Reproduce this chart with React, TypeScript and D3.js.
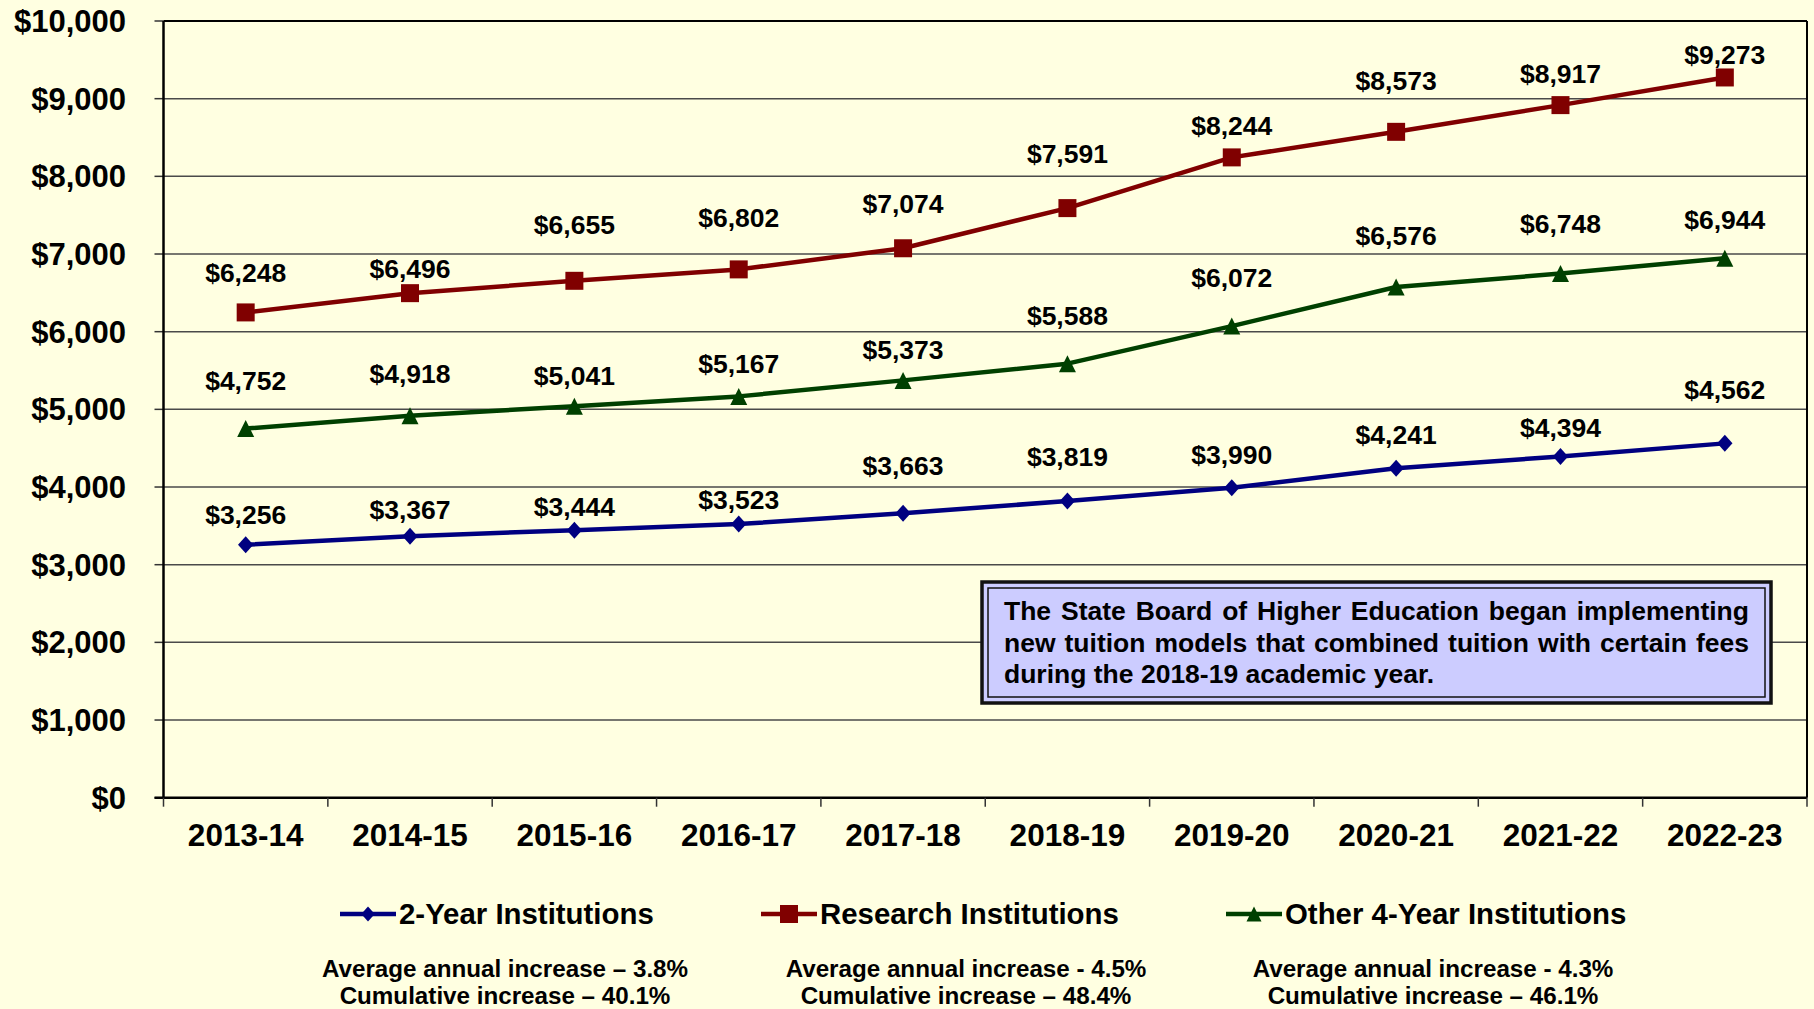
import React, { useEffect, useRef } from 'react';
import * as d3 from 'd3';

const years = ['2013-14', '2014-15', '2015-16', '2016-17', '2017-18', '2018-19', '2019-20', '2020-21', '2021-22', '2022-23'];
const twoYear = [3256, 3367, 3444, 3523, 3663, 3819, 3990, 4241, 4394, 4562];
const research = [6248, 6496, 6655, 6802, 7074, 7591, 8244, 8573, 8917, 9273];
const otherFour = [4752, 4918, 5041, 5167, 5373, 5588, 6072, 6576, 6748, 6944];
const yTicks = [0, 1000, 2000, 3000, 4000, 5000, 6000, 7000, 8000, 9000, 10000];

// value labels were nudged by hand in the original, px above the point
const twoYearLift = [30, 26, 23, 24, 47, 44, 33, 33, 28, 53];
const researchLift = [39, 24, 56, 51, 44, 54, 31, 51, 31, 22];
const otherLift = [48, 42, 30, 32, 30, 48, 48, 51, 50, 38];

const legendNames = ['2-Year Institutions', 'Research Institutions', 'Other 4-Year Institutions'];
const avgIncrease = ['Average annual increase – 3.8%', 'Average annual increase - 4.5%', 'Average annual increase - 4.3%'];
const cumIncrease = ['Cumulative increase – 40.1%', 'Cumulative increase – 48.4%', 'Cumulative increase – 46.1%'];
const noteLines = [
  'The State Board of Higher Education began implementing',
  'new tuition models that combined tuition with certain fees',
  'during the 2018-19 academic year.'
];

const W = 1814;
const H = 1009;
const FONT = "'Liberation Sans', Arial, Helvetica, sans-serif";

type Marker = 'diamond' | 'square' | 'triangle';

function markerPath(kind: Marker, s: number) {
  const h = s / 2;
  if (kind === 'diamond') return `M0,${-h}L${h * 0.9},0L0,${h}L${-h * 0.9},0Z`;
  if (kind === 'square') return `M${-h},${-h}H${h}V${h}H${-h}Z`;
  return `M0,${-h}L${h},${h}L${-h},${h}Z`;
}

export default function App() {
  const svgRef = useRef<SVGSVGElement>(null);

  useEffect(() => {
    if (!svgRef.current) return;
    const svg = d3.select(svgRef.current);
    svg.selectAll('*').remove();

    const left = 163.5;
    const right = 1807;
    const top = 21;
    const bottom = 797.7;

    const x = d3.scaleBand<string>().domain(years).range([left, right]);
    const cx = (d: string) => (x(d) || 0) + x.bandwidth() / 2;
    const y = d3.scaleLinear().domain([0, 10000]).range([bottom, top]);
    const money = (v: number) => '$' + d3.format(',')(v);

    svg.append('rect').attr('width', W).attr('height', H).attr('fill', '#FFFFE1');

    // gridlines + y ticks
    svg.append('g')
      .selectAll('line')
      .data(yTicks.filter(t => t > 0 && t < 10000))
      .enter().append('line')
      .attr('x1', left).attr('x2', right)
      .attr('y1', d => y(d)).attr('y2', d => y(d))
      .attr('stroke', '#4a4a4a')
      .attr('stroke-width', 1.5);

    svg.append('g')
      .selectAll('line')
      .data(yTicks)
      .enter().append('line')
      .attr('x1', left - 9).attr('x2', left)
      .attr('y1', d => y(d)).attr('y2', d => y(d))
      .attr('stroke', '#333')
      .attr('stroke-width', 1.5);

    svg.append('g')
      .selectAll('text')
      .data(yTicks)
      .enter().append('text')
      .attr('x', 126)
      .attr('y', d => y(d) + 11)
      .attr('text-anchor', 'end')
      .style('font-family', FONT)
      .style('font-weight', 'bold')
      .style('font-size', '31px')
      .text(d => money(d));

    // frame
    svg.append('line').attr('x1', left).attr('x2', right).attr('y1', top).attr('y2', top)
      .attr('stroke', '#000').attr('stroke-width', 2);
    svg.append('line').attr('x1', right).attr('x2', right).attr('y1', top).attr('y2', bottom)
      .attr('stroke', '#000').attr('stroke-width', 2);
    svg.append('line').attr('x1', left).attr('x2', left).attr('y1', top).attr('y2', bottom)
      .attr('stroke', '#000').attr('stroke-width', 2.5);
    svg.append('line').attr('x1', left - 9).attr('x2', right).attr('y1', bottom).attr('y2', bottom)
      .attr('stroke', '#000').attr('stroke-width', 2.5);

    // x ticks at band edges
    const edges = years.map(d => x(d) || 0).concat([right]);
    svg.append('g')
      .selectAll('line')
      .data(edges)
      .enter().append('line')
      .attr('x1', d => d).attr('x2', d => d)
      .attr('y1', bottom).attr('y2', bottom + 9)
      .attr('stroke', '#333')
      .attr('stroke-width', 1.5);

    svg.append('g')
      .selectAll('text')
      .data(years)
      .enter().append('text')
      .attr('x', d => cx(d))
      .attr('y', 846)
      .attr('text-anchor', 'middle')
      .style('font-family', FONT)
      .style('font-weight', 'bold')
      .style('font-size', '31.5px')
      .text(d => d);

    // note box
    const bx = 982, by = 582, bw = 789, bh = 121;
    svg.append('rect').attr('x', bx).attr('y', by).attr('width', bw).attr('height', bh)
      .attr('fill', '#CCCCFF').attr('stroke', '#111').attr('stroke-width', 3.5);
    svg.append('rect').attr('x', bx + 6).attr('y', by + 6).attr('width', bw - 12).attr('height', bh - 12)
      .attr('fill', 'none').attr('stroke', '#111').attr('stroke-width', 1.5);

    const noteLeft = 1004;
    const noteRight = 1749;
    noteLines.forEach((line, i) => {
      const ty = 620 + i * 31.5;
      const g = svg.append('g');
      const words = line.split(' ');
      if (i < noteLines.length - 1) {
        // justified, like the original text box
        const nodes = words.map(w => g.append('text')
          .attr('y', ty)
          .style('font-family', FONT)
          .style('font-weight', 'bold')
          .style('font-size', '26.5px')
          .text(w));
        const widths = nodes.map(n => (n.node() as SVGTextElement).getComputedTextLength());
        const total = d3.sum(widths);
        const gap = (noteRight - noteLeft - total) / (words.length - 1);
        let pos = noteLeft;
        nodes.forEach((n, k) => {
          n.attr('x', pos);
          pos += widths[k] + gap;
        });
      } else {
        g.append('text')
          .attr('x', noteLeft)
          .attr('y', ty)
          .style('font-family', FONT)
          .style('font-weight', 'bold')
          .style('font-size', '26.5px')
          .text(line);
      }
    });

    const series = [
      { name: legendNames[0], values: twoYear, lift: twoYearLift, color: '#000080', marker: 'diamond' as Marker, size: 17 },
      { name: legendNames[1], values: research, lift: researchLift, color: '#800000', marker: 'square' as Marker, size: 18 },
      { name: legendNames[2], values: otherFour, lift: otherLift, color: '#004000', marker: 'triangle' as Marker, size: 17 }
    ];

    const line = d3.line<number>()
      .x((_, i) => cx(years[i]))
      .y(d => y(d));

    series.forEach(s => {
      svg.append('path')
        .datum(s.values)
        .attr('fill', 'none')
        .attr('stroke', s.color)
        .attr('stroke-width', 4.5)
        .attr('stroke-linejoin', 'round')
        .attr('d', line);

      svg.append('g')
        .selectAll('path')
        .data(s.values)
        .enter().append('path')
        .attr('transform', (d, i) => `translate(${cx(years[i])},${y(d)})`)
        .attr('d', markerPath(s.marker, s.size))
        .attr('fill', s.color);

      svg.append('g')
        .selectAll('text')
        .data(s.values)
        .enter().append('text')
        .attr('x', (d, i) => cx(years[i]))
        .attr('y', (d, i) => y(d) - s.lift[i] + 9)
        .attr('text-anchor', 'middle')
        .style('font-family', FONT)
        .style('font-weight', 'bold')
        .style('font-size', '26.5px')
        .text(d => money(d));
    });

    // legend
    const legendX = [340, 761, 1226];
    const statsX = [505, 966, 1433];
    series.forEach((s, i) => {
      const lx = legendX[i];
      svg.append('line')
        .attr('x1', lx).attr('x2', lx + 56)
        .attr('y1', 914).attr('y2', 914)
        .attr('stroke', s.color)
        .attr('stroke-width', 4.5);
      svg.append('path')
        .attr('transform', `translate(${lx + 28},914)`)
        .attr('d', markerPath(s.marker, s.marker === 'square' ? 18 : 15))
        .attr('fill', s.color);
      svg.append('text')
        .attr('x', lx + 59)
        .attr('y', 924)
        .style('font-family', FONT)
        .style('font-weight', 'bold')
        .style('font-size', '29.4px')
        .text(s.name);

      svg.append('text')
        .attr('x', statsX[i])
        .attr('y', 977)
        .attr('text-anchor', 'middle')
        .style('font-family', FONT)
        .style('font-weight', 'bold')
        .style('font-size', '24.2px')
        .text(avgIncrease[i]);
      svg.append('text')
        .attr('x', statsX[i])
        .attr('y', 1004)
        .attr('text-anchor', 'middle')
        .style('font-family', FONT)
        .style('font-weight', 'bold')
        .style('font-size', '24.2px')
        .text(cumIncrease[i]);
    });
  }, []);

  return (
    <svg
      ref={svgRef}
      width={W}
      height={H}
      style={{ position: 'absolute', left: 0, top: 0, display: 'block' }}
    />
  );
}
